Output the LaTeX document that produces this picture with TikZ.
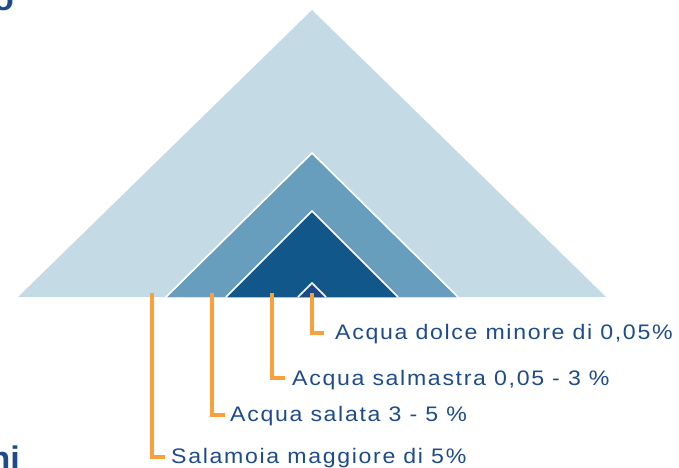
\documentclass[tikz,border=0pt]{standalone}
\usepackage{fontspec}
\setmainfont{Liberation Sans}
\newfontfamily\lblfont[FakeStretch=1.1, LetterSpace=8]{Liberation Sans}
\definecolor{lightbl}{HTML}{C4DAE4}
\definecolor{midbl}{HTML}{679EBD}
\definecolor{darkbl}{HTML}{11578A}
\definecolor{navybl}{HTML}{1B4A86}
\definecolor{txtbl}{HTML}{1E4B8A}
\definecolor{orng}{HTML}{F7A03C}
\tikzset{
  tri/.style={draw=white, line width=1.6pt, line join=miter},
  lead/.style={draw=orng, line width=3.2pt},
  lbl/.style={anchor=base west, inner sep=0pt, text=txtbl, font=\lblfont\fontsize{21}{24}\selectfont},
  cut/.style={inner sep=0pt, text=txtbl, font=\fontsize{34}{40}\selectfont\bfseries}
}
\begin{document}
\begin{tikzpicture}[x=1pt,y=-1pt]
\useasboundingbox (0,0) rectangle (679,467);
\begin{scope}
\clip (0,0) rectangle (679,467);
\node[cut, anchor=base east] (ttl) at (14,10) {o};
\node[cut, anchor=base east] (sub) at (20,470) {ni};
\end{scope}
% triangles
\fill[lightbl] (18,297) -- (312,10) -- (606,297) -- cycle;
\path[tri, fill=midbl] (166,297) -- (312,153) -- (458,297);
\fill[midbl] (168,297) -- (312,155) -- (456,297) -- cycle;
\path[tri, fill=darkbl] (226,297) -- (312,211) -- (398,297);
\fill[darkbl] (228,297) -- (312,213) -- (396,297) -- cycle;
\path[tri, fill=navybl] (298,297) -- (312,283) -- (326,297);
% labels
\node[lbl] (l1) at (335,339) {Acqua dolce minore di 0,05\%};
\node[lbl] (l2) at (292,385) {Acqua salmastra 0,05 - 3 \%};
\node[lbl] (l3) at (230,421) {Acqua salata 3 - 5 \%};
\node[lbl] (l4) at (171,463) {Salamoia maggiore di 5\%};
\coordinate (p1) at (312,293);
\coordinate (p2) at (272,293);
\coordinate (p3) at (212,293);
\coordinate (p4) at (152,293);
\draw[lead] (p1) |- ([xshift=-11pt,yshift=6pt]l1.base west);
\draw[lead] (p2) |- ([xshift=-7pt,yshift=7pt]l2.base west);
\draw[lead] (p3) |- ([xshift=-5pt,yshift=6pt]l3.base west);
\draw[lead] (p4) |- ([xshift=-6pt,yshift=6pt]l4.base west);
\end{tikzpicture}
\end{document}
